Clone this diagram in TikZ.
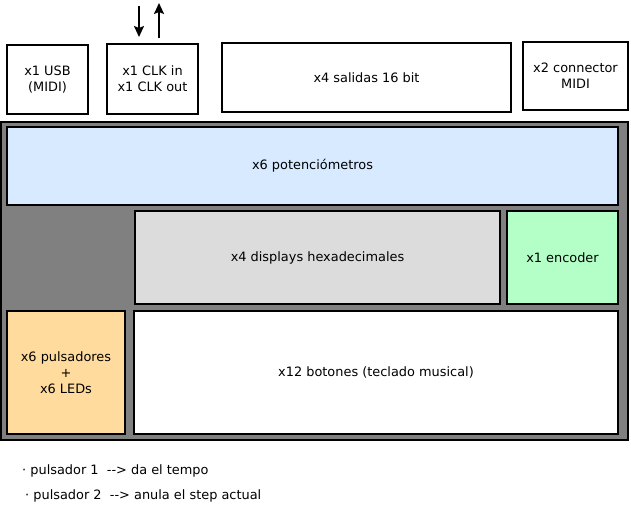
\documentclass[tikz,border=0pt]{standalone}
\usepackage{fontspec}
\setmainfont{DejaVu Sans}
\usetikzlibrary{arrows.meta}
\definecolor{azulpot}{RGB}{215,234,255}
\definecolor{grisdisp}{RGB}{220,220,220}
\definecolor{verdeenc}{RGB}{180,255,200}
\definecolor{naranjapul}{RGB}{255,220,157}
\definecolor{grispanel}{RGB}{128,128,128}
\begin{document}
\begin{tikzpicture}
[x=1pt,y=-1pt,
caja/.style={draw,line width=2pt,inner sep=0pt,outer sep=0pt,align=center},
flecha/.style={line width=1.8pt,-{Stealth[length=11pt,width=10pt,inset=2pt]}}]
\fontsize{12.9}{16}\selectfont
\useasboundingbox (0,0) rectangle (631,505);
% conectores de arriba
\node[caja,minimum width=81pt,minimum height=69pt] (usb) at (47.5,79.5) {x1 USB\\(MIDI)};
\node[caja,minimum width=91pt,minimum height=70pt] (clk) at (152.5,79) {x1 CLK in\\x1 CLK out};
\node[caja,minimum width=289pt,minimum height=69pt] (salidas) at (366.5,77.5) {x4 salidas 16 bit};
\node[caja,minimum width=105pt,minimum height=68pt] (midi) at (575.5,76) {x2 connector\\MIDI};
\coordinate (clkin) at (139,6);
\coordinate (clkout) at (159,3);
\draw[flecha] (clkin) -- (139,37);
\draw[flecha] (159,38) -- (clkout);
% panel
\node[caja,fill=grispanel,minimum width=627pt,minimum height=318pt] (panel) at (314.5,281) {};
\node[caja,fill=azulpot,minimum width=611pt,minimum height=78pt] (pot) at (312.5,166) {x6 potenciómetros};
\node[caja,fill=grisdisp,minimum width=365pt,minimum height=93pt] (disp) at (317.5,257.5) {x4 displays hexadecimales};
\node[caja,fill=verdeenc,minimum width=111pt,minimum height=93pt] (enc) at (562.5,257.5) {x1 encoder};
\node[caja,fill=naranjapul,minimum width=118pt,minimum height=123pt] (puls) at (66,372.5) {x6 pulsadores\\+\\x6 LEDs};
\node[caja,fill=white,minimum width=484pt,minimum height=123pt] (botones) at (376,372.5) {x12 botones (teclado musical)};
% notas
\node[anchor=base west,inner sep=0pt] (nota1) at (22,474) {· pulsador 1~~-{}-{}> da el tempo};
\node[anchor=base west,inner sep=0pt] (nota2) at (25,499) {· pulsador 2~~-{}-{}> anula el step actual};
\end{tikzpicture}
\end{document}
